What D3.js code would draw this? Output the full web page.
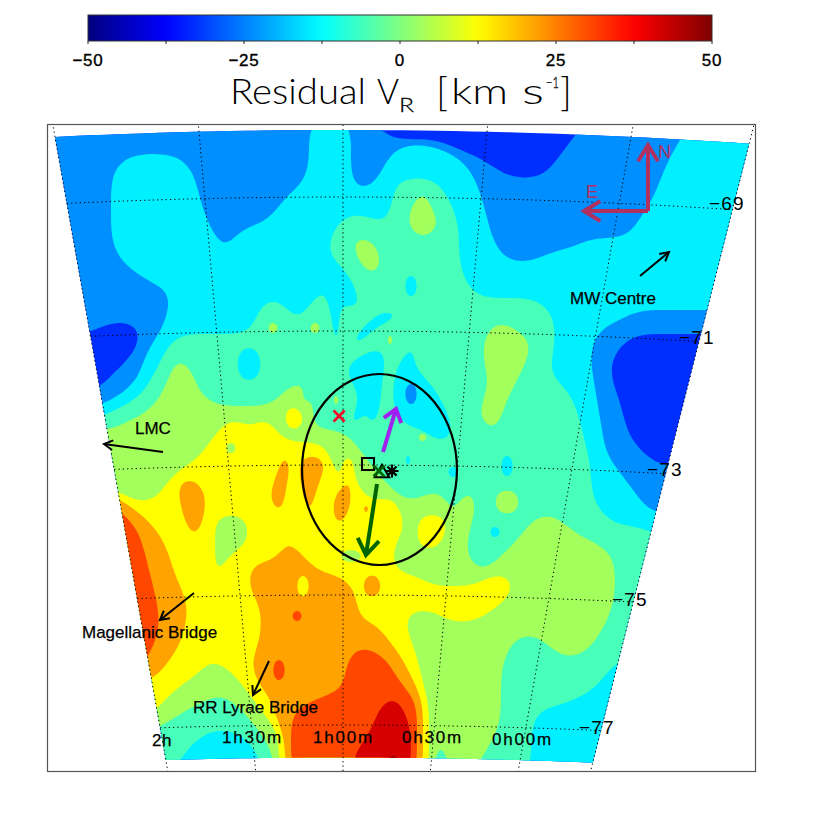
<!DOCTYPE html>
<html><head><meta charset="utf-8">
<script src="https://cdn.jsdelivr.net/npm/d3@7"></script>
<style>html,body{margin:0;background:#fff}svg{display:block}text{font-family:"Liberation Sans",sans-serif;fill:#000}</style>
</head><body><svg id="c" width="830" height="830"></svg>
<script>
// ---- data ----
const colorbarTicks=[-50,-37.5,-25,-12.5,0,12.5,25,37.5,50];
const colorbarLabels=[-50,-25,0,25,50];
const jetValues=[-50,-37.5,-12.5,12.5,37.5,50];
const jetColors=["#00007f","#0000ff","#00ffff","#ffff00","#ff0000","#7f0000"];
// residual velocity of each contour band (km/s)
const bandValues=[-33,-23.5,-14,-5.5,3.5,12.5,21.5,30.5,41.5,48.5];
const levels=[-28.25,-18.75,-9.75,-1,8,17,26,36,45];
// residual map: one run-length row per declination step, pairs of (band, first column)
const residualRuns=[
[1,0,2,44,1,51,0,55,1,90,2,108],
[1,0,2,44,1,51,0,57,1,88,2,106],
[1,0,2,44,1,51,2,58,1,66,0,68,1,87,2,105],
[1,0,2,13,1,23,2,44,1,51,2,57,1,70,0,73,1,85,2,104],
[1,0,2,11,1,25,2,44,1,51,2,56,1,71,0,76,1,84,2,103],
[1,0,2,11,1,25,2,43,1,51,2,55,3,58,2,66,1,72,2,102],
[1,0,2,11,1,26,2,40,3,58,4,62,3,64,2,67,1,73,2,102],
[1,0,2,11,1,26,2,39,3,58,4,61,3,64,2,68,1,73,2,100],
[1,0,2,11,1,27,2,37,3,49,2,55,3,57,4,60,3,66,2,69,1,74,2,99],
[1,0,2,11,1,28,2,32,3,48,4,61,3,65,2,69,1,74,2,98],
[1,0,2,11,1,29,2,31,3,47,4,51,3,55,2,69,1,75,2,89],
[1,0,2,12,3,47,4,52,3,56,2,69,1,76,2,83],
[1,0,2,14,3,50,4,53,3,56,2,69],
[1,0,2,17,3,51,2,60,3,62,2,70],
[1,0,2,21,3,46,2,47,3,52,2,60,3,62,2,71],
[1,0,2,21,3,36,2,40,3,44,2,47,3,49,2,50,3,53,2,83],
[1,0,2,20,3,35,2,41,3,43,2,48,3,49,2,55,3,59,2,85,1,97],
[1,0,0,9,1,16,2,20,3,35,4,37,3,39,4,44,3,46,2,48,3,49,2,53,3,55,4,74,3,78,2,85,1,93],
[0,0,1,16,2,18,3,21,2,48,3,49,2,51,3,53,4,57,3,58,4,73,3,81,2,85,1,91,0,97],
[0,0,1,15,2,17,3,20,2,32,3,36,2,54,3,57,2,60,3,62,4,73,3,81,2,85,1,91,0,95],
[0,0,1,13,2,16,3,19,4,21,3,24,2,32,3,36,2,50,3,57,2,59,3,61,4,73,3,80,2,84,1,91,0,94],
[0,0,1,11,2,16,3,18,4,21,3,25,2,32,3,36,2,50,3,56,2,58,3,63,4,74,3,79,2,84,1,91,0,94],
[0,0,1,9,2,14,3,17,4,20,3,25,4,40,3,44,2,52,3,56,2,58,1,60,2,62,3,65,4,74,3,78,2,87,1,92,0,95],
[1,0,2,11,3,15,4,19,3,27,4,39,3,42,4,44,3,45,4,48,3,49,2,53,3,56,2,58,1,60,2,62,3,66,4,73,3,77,2,88,1,92,0,96],
[2,0,3,11,4,17,5,40,4,43,3,45,2,51,3,53,2,54,3,56,2,58,3,67,4,72,3,76,2,89,1,92,0,96],
[3,0,4,13,5,30,4,33,5,35,4,38,5,40,4,43,3,44,2,51,3,52,2,54,3,55,2,60,3,68,4,73,3,76,2,89,1,93,0,97],
[4,0,5,28,4,39,3,51,4,62,2,64,3,68,2,90,1,93,0,97],
[4,0,5,27,4,30,5,32,4,47,3,52,2,90,1,93,0,99],
[4,0,5,25,6,39,5,41,6,42,5,47,4,48,5,49,4,52,3,54,2,60,3,61,2,76,3,78,2,91,1,94,0,101],
[4,0,5,22,6,39,5,41,6,42,5,47,4,48,5,50,4,51,3,55,2,67,3,69,2,76,3,78,2,91,1,96],
[4,0,5,20,6,22,5,26,6,38,5,40,6,43,5,45,6,50,5,51,4,52,3,57,2,91,1,97],
[6,0,5,12,4,13,5,19,6,22,5,27,6,37,5,40,6,43,5,45,6,48,5,51,4,53,5,57,4,58,3,59,4,63,3,67,4,69,3,72,4,75,3,79,2,91,1,99],
[7,0,6,12,5,15,6,23,5,27,6,38,5,40,6,43,5,45,6,48,5,51,6,53,5,54,4,59,3,67,4,69,3,72,4,75,3,79,2,92,1,100],
[7,0,6,14,5,17,6,23,5,26,4,28,5,34,6,48,5,50,4,60,5,62,4,67,3,71,4,81,3,86,2,94],
[7,0,6,16,5,19,6,24,5,26,4,28,5,34,4,60,5,62,4,67,3,71,2,74,3,76,4,80,3,88,2,101],
[7,0,6,16,5,20,4,29,5,34,6,40,5,41,4,58,5,62,4,66,3,70,4,78,3,92],
[7,0,6,17,5,21,4,28,5,30,6,39,5,43,4,49,5,53,4,58,3,70,4,76,3,95],
[7,0,6,17,5,21,4,28,5,30,6,34,5,45,4,58,3,72,4,74,3,95],
[7,0,6,18,5,22,6,34,5,42,6,44,5,50,6,53,5,56,4,63,5,73,4,78,3,95],
[7,0,6,18,5,23,6,34,5,42,6,44,5,52,6,53,5,56,4,78,3,95],
[7,0,6,19,5,24,6,36,5,52,4,76,3,95],
[7,0,6,19,5,24,6,36,7,41,6,43,5,52,4,60,5,66,4,73,3,94],
[7,0,6,19,5,23,6,36,5,56,4,60,3,93],
[7,0,6,19,5,23,6,36,5,57,4,61,3,78,4,83,3,92],
[7,0,6,17,5,22,6,35,7,51,6,55,5,59,4,62,3,77,4,85,3,90],
[7,0,6,17,5,20,4,27,5,29,6,34,7,38,6,40,7,50,6,58,5,60,4,62,3,76,2,95],
[6,0,5,19,4,25,5,32,6,35,7,38,6,40,7,50,6,58,5,61,4,63,3,76,2,93],
[5,0,4,22,5,33,6,36,7,50,6,60,5,62,4,63,3,76,2,92],
[5,0,4,20,3,27,4,31,5,35,6,38,7,45,8,57,7,59,6,62,5,63,4,64,3,76,2,88],
[5,0,4,18,3,23,4,33,5,36,6,38,7,41,8,55,7,60,6,62,5,63,4,64,3,76,2,82],
[4,0,3,20,4,35,5,38,6,39,7,41,8,55,7,61,6,62,5,63,4,64,3,76,2,81],
[3,0,2,26,3,33,4,36,5,39,6,40,7,41,8,54,7,61,6,62,5,63,4,64,3,75,2,81],
[3,0,2,24,3,35,4,38,5,39,6,40,7,41,8,52,7,61,6,62,5,63,4,64,3,65,4,67,3,74,2,81],
[3,0,2,22,3,36,4,38,5,39,6,40,7,41,8,51,9,57,8,59,7,61,6,62,5,63,4,64,3,65,4,67,3,72,2,81],
[3,0,2,22,3,36,4,38,5,39,6,40,7,41,8,51,9,57,8,59,7,61,6,62,5,63,4,64,3,65,4,67,3,72,2,81]
];
const gridColumns=120;
// sky graticule
const raHours=[2,1.5,1,0.5,0,-0.41];
const raLabels=["2h","1h30m","1h00m","0h30m","0h00m"];
const decDegrees=[-69,-71,-73,-75,-77];
const decLabels=["−69","−71","−73","−75","−77"];
const decPixelsAt=[197,331,465,595,725];
// annotations in tangent-plane degrees (east-west offset, declination)
const blackArrows=[[-2.727,-72.803,-3.621,-72.682],[4.5,-70.136,4.939,-69.773],[-2.258,-74.939,-2.773,-75.348],[-1.121,-75.97,-1.364,-76.485]];
const motionPurple=[0.606,-72.803,0.803,-72.152];
const motionGreen=[0.515,-73.288,0.348,-74.364];
const compassNorth=[4.621,-69.152,4.621,-68.152];
const compassEast=[4.621,-69.152,3.652,-69.152];
const redCross=[-0.06,-72.258];
const squareMark=[0.379,-72.985];
const triangleMark=[0.591,-73.121];
const greenCross=[0.545,-73.091];
const asteriskMark=[0.742,-73.091];
const ellipseCentre=[0.553,-73.068];
const ellipseRadii=[1.174,1.447];

// ---- scales ----
const svg=d3.select("#c");
const jet=d3.scaleLinear().domain(jetValues).range(jetColors).interpolate(d3.interpolateRgb);
const barX=d3.scaleLinear().domain([-50,50]).range([88,712]);
const mapX=d3.scaleLinear().domain([0,1]).range([343,409]);
const mapY=d3.scaleLinear().domain([-73,-72]).range([465,399]);
const decY=d3.scaleLinear().domain(decDegrees).range(decPixelsAt);
function sky(h,d){
  const y=decY(d), dx=(1-h)*0.1767*(1760-y);
  return [343+dx, y+dx*dx/12000];
}
const rows=residualRuns.length;
const values=new Float64Array(gridColumns*rows);
residualRuns.forEach((run,j)=>{
  for(let k=0;k<run.length;k+=2){
    const end=k+3<run.length?run[k+3]:gridColumns;
    for(let i=run[k+1];i<end;i++) values[j*gridColumns+i]=bandValues[run[k]];
  }
});
const gridX=d3.scaleLinear().domain([0.5,gridColumns-0.5]).range([48,762]);
const gridY=d3.scaleLinear().domain([0.5,rows-0.5]).range([124,772]);

// ---- colour bar ----
const defs=svg.append("defs");
const grad=defs.append("linearGradient").attr("id","jet");
d3.range(0,101,2).forEach(p=>grad.append("stop").attr("offset",p+"%").attr("stop-color",jet(p-50)));
svg.append("rect").attr("x",barX(-50)).attr("y",15).attr("width",barX(50)-barX(-50)).attr("height",26).attr("fill","url(#jet)").attr("stroke","#333").attr("stroke-width",1);
svg.selectAll(".bt").data(colorbarTicks).join("line").attr("x1",barX).attr("x2",barX).attr("y1",41).attr("y2",44).attr("stroke","#222");
svg.selectAll(".bl").data(colorbarLabels).join("text").attr("x",barX).attr("y",66).attr("text-anchor","middle").attr("font-size",17).attr("letter-spacing",0.8).attr("stroke","#000").attr("stroke-width",0.35).text(d=>String(d).replace("-","−"));

// title
const titleParts=[["Residual",230,104,36,136],["V",377,104,36,22],["R",399,112,20,15],["[",436,106,40,12],["km",451,104,36,57],["s",522,104,36,22],["−1",546,88,15,13],["]",560,106,40,12]];
svg.selectAll(".ti").data(titleParts).join("text").attr("x",d=>d[1]).attr("y",d=>d[2]).attr("font-size",d=>d[3]).attr("textLength",d=>d[4]).attr("lengthAdjust","spacingAndGlyphs").style("font-family","Lato,'Liberation Sans'").style("font-weight",300).attr("stroke","#000").attr("stroke-width",d=>d[3]<25?0.3:0).text(d=>d[0]);

// ---- frame & map ----
defs.append("clipPath").attr("id","frame").append("rect").attr("x",47).attr("y",124).attr("width",708).attr("height",648);
const lineGen=d3.line();
const edgeDec=[-68,-77.5], west=2, east=-0.41;
const boundary=[];
d3.range(0,41).forEach(i=>boundary.push(sky(west+(east-west)*i/40,edgeDec[0])));
d3.range(0,21).forEach(i=>boundary.push(sky(east,edgeDec[0]+(edgeDec[1]-edgeDec[0])*i/20)));
d3.range(0,41).forEach(i=>boundary.push(sky(east+(west-east)*i/40,edgeDec[1])));
d3.range(0,21).forEach(i=>boundary.push(sky(west,edgeDec[1]+(edgeDec[0]-edgeDec[1])*i/20)));
defs.append("clipPath").attr("id","field").append("path").attr("d",lineGen(boundary)+"Z");

const map=svg.append("g").attr("clip-path","url(#field)");
map.append("rect").attr("x",47).attr("y",124).attr("width",708).attr("height",648).attr("fill",jet(bandValues[0]));
const contours=d3.contours().size([gridColumns,rows]).thresholds(levels).smooth(true)(values);

// contour rings: the 12-unit row spacing leaves stair steps, so each ring is resampled and averaged along its length
function smoothRing(raw){
  const p=raw.slice(0,-1).map(q=>[gridX(q[0]),gridY(q[1])]);
  const n=p.length, seg=[];
  let per=0;
  for(let i=0;i<n;i++){const a=p[i],b=p[(i+1)%n],l=Math.hypot(b[0]-a[0],b[1]-a[1]);seg.push(l);per+=l;}
  if(per<4) return "";
  const step=2, count=Math.max(6,Math.round(per/step)), res=[];
  let idx=0,acc=0;
  for(let k=0;k<count;k++){
    const s=k*per/count;
    while(acc+seg[idx]<s&&idx<n-1){acc+=seg[idx];idx++;}
    const f=seg[idx]?(s-acc)/seg[idx]:0,a=p[idx],b=p[(idx+1)%n];
    res.push([a[0]+(b[0]-a[0])*f,a[1]+(b[1]-a[1])*f]);
  }
  const half=Math.max(1,Math.round(Math.min(per/10,15)/(per/count)));
  let cur=res;
  for(let pass=0;pass<2;pass++){
    const nxt=[];
    for(let k=0;k<count;k++){
      let sx=0,sy=0;
      for(let o=-half;o<=half;o++){const q=cur[(k+o+count*4)%count];sx+=q[0];sy+=q[1];}
      nxt.push([sx/(2*half+1),sy/(2*half+1)]);
    }
    cur=nxt;
  }
  return lineGen(cur)+"Z";
}
map.selectAll("path").data(contours).join("path")
  .attr("fill",(d,i)=>jet(bandValues[i+1])).attr("fill-rule","evenodd")
  .attr("d",d=>d.coordinates.map(poly=>poly.map(smoothRing).join("")).join(""));

// graticule
const grat=svg.append("g").attr("clip-path","url(#frame)").attr("fill","none").attr("stroke","#000").attr("stroke-width",1).attr("stroke-dasharray","1.3 3");
raHours.forEach(h=>{
  grat.append("path").attr("d",lineGen(d3.range(0,31).map(i=>sky(h,-67.6-i*(10.4/30)))));
});
decDegrees.forEach(d=>{
  grat.append("path").attr("d",lineGen(d3.range(0,41).map(i=>sky(west+(east-west)*i/40,d))));
});
svg.append("rect").attr("x",47.5).attr("y",124.5).attr("width",708).attr("height",647).attr("fill","none").attr("stroke","#555").attr("stroke-width",1.2);

// graticule labels
const raPos=[[152,746],[222,743],[313,743],[402,743],[492,745]];
svg.selectAll(".ra").data(raLabels).join("text").attr("x",(d,i)=>raPos[i][0]).attr("y",(d,i)=>raPos[i][1]).attr("font-size",17).attr("letter-spacing",(d,i)=>i?1.8:0.5).attr("stroke","#000").attr("stroke-width",0.25).text(d=>d);
const decPos=[[709,210],[679,344],[647,476],[612,606],[579,734]];
svg.selectAll(".de").data(decLabels).join("text").attr("x",(d,i)=>decPos[i][0]).attr("y",(d,i)=>decPos[i][1]).attr("font-size",19).attr("letter-spacing",1.2).text(d=>d);

// annotations
function arrow(a,color,w,barb,ang){
  const x1=mapX(a[0]),y1=mapY(a[1]),x2=mapX(a[2]),y2=mapY(a[3]);
  const t=Math.atan2(y1-y2,x1-x2);
  const g=svg.append("g").attr("stroke",color).attr("stroke-width",w).attr("fill","none").attr("stroke-linecap","butt");
  g.append("line").attr("x1",x1).attr("y1",y1).attr("x2",x2).attr("y2",y2);
  g.append("path").attr("stroke-linejoin","miter").attr("d",lineGen([[x2+barb*Math.cos(t+ang),y2+barb*Math.sin(t+ang)],[x2,y2],[x2+barb*Math.cos(t-ang),y2+barb*Math.sin(t-ang)]]));
}
blackArrows.forEach(a=>arrow(a,"#000",2,10,0.5));
arrow(motionPurple,"#a020f0",4,15,0.65);
arrow(motionGreen,"#006400",4,19,0.6);
arrow(compassNorth,"#b03060",4,19,0.55);
arrow(compassEast,"#b03060",4,19,0.55);

svg.append("ellipse").attr("cx",mapX(ellipseCentre[0])).attr("cy",mapY(ellipseCentre[1]))
  .attr("rx",mapX(ellipseRadii[0])-mapX(0)).attr("ry",mapY(-73)-mapY(-73+ellipseRadii[1]))
  .attr("fill","none").attr("stroke","#000").attr("stroke-width",2.2);
function cross(p,r,color,w){
  const x=mapX(p[0]),y=mapY(p[1]);
  svg.append("path").attr("d",`M${x-r},${y-r}L${x+r},${y+r}M${x-r},${y+r}L${x+r},${y-r}`).attr("stroke",color).attr("stroke-width",w).attr("fill","none");
}
cross(redCross,5.5,"#f0102a",2.8);
svg.append("rect").attr("x",mapX(squareMark[0])-6).attr("y",mapY(squareMark[1])-6).attr("width",12).attr("height",12).attr("fill","none").attr("stroke","#000").attr("stroke-width",2);
svg.append("path").attr("d",d3.symbol(d3.symbolTriangle,90)()).attr("transform",`translate(${mapX(triangleMark[0])},${mapY(triangleMark[1])})`).attr("fill","none").attr("stroke","#000").attr("stroke-width",2);
{const x=mapX(asteriskMark[0]),y=mapY(asteriskMark[1]),r=6.5;
 const spokes=d3.range(0,4).map(i=>i*Math.PI/4);
 svg.append("path").attr("d",spokes.map(a=>`M${x-r*Math.cos(a)},${y-r*Math.sin(a)}L${x+r*Math.cos(a)},${y+r*Math.sin(a)}`).join("")).attr("stroke","#000").attr("stroke-width",2.2).attr("fill","none");}
cross(greenCross,5.5,"#006400",2.8);

const notes=[["LMC",135,434,17],["MW Centre",570,304,17],["Magellanic Bridge",82,638,17],["RR Lyrae Bridge",193,713,17]];
svg.selectAll(".no").data(notes).join("text").attr("x",d=>d[1]).attr("y",d=>d[2]).attr("font-size",d=>d[3]).attr("stroke","#000").attr("stroke-width",0.25).text(d=>d[0]);
svg.selectAll(".cp").data([["N",658,158],["E",586,198]]).join("text").attr("x",d=>d[1]).attr("y",d=>d[2]).attr("font-size",18).style("fill","#b03060").text(d=>d[0]);
</script></body></html>
